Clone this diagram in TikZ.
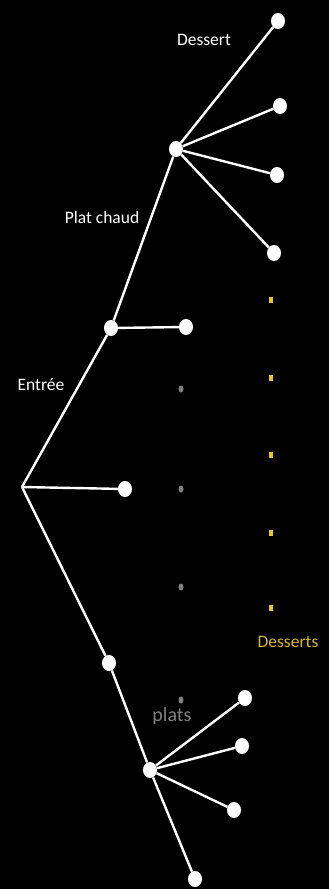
\documentclass[tikz,border=0pt]{standalone}
\usepackage{fontspec}
\setmainfont{Carlito}
\usetikzlibrary{shapes}
\definecolor{goldyellow}{RGB}{232,200,30}
\definecolor{labelyellow}{RGB}{214,184,34}

\begin{document}
\begin{tikzpicture}[x=1pt, y=-1pt,
			dot/.style={ellipse, fill=white, inner sep=0pt, minimum width=14pt, minimum height=16pt},
			gdot/.style={ellipse, fill=gray, inner sep=0pt, minimum width=5pt, minimum height=7pt},
			ydot/.style={rectangle, fill=goldyellow, inner sep=0pt, minimum width=4pt, minimum height=6pt},
			edge/.style={white, line width=2.4pt},
			font=\fontsize{17.5}{20}\selectfont]
			%Hintergrund
			\fill[black] (0,0) rectangle (329,889);
			\useasboundingbox (0,0) rectangle (329,889);
			% Wurzel und Knoten
			\coordinate (menu) at (22,487);
			\node[dot] (p1) at (111,328) {};
			\node[dot] (p1a) at (186,327) {};
			\node[dot] (p2) at (125,489) {};
			\node[dot] (p3) at (109,663) {};
			\node[dot] (c) at (176,149) {};
			\node[dot] (d) at (150,770) {};
			\node[dot] (e) at (195,879) {};
			% Kanten
			\draw[edge] (menu) -- (p1);
			\draw[edge] (menu) -- (p2);
			\draw[edge] (menu) -- (p3);
			\draw[edge] (p1) -- (p1a);
			\draw[edge] (p1) -- (c);
			\draw[edge] (p3) -- (d);
			\draw[edge] (d) -- (e);
			% Desserts oben
			\foreach \n/\x/\y in {1/278/21, 2/280/106, 3/277/175, 4/274/253}
				{\node[dot] (c\n) at (\x,\y) {};
				 \draw[edge] (c) -- (c\n);}
			% Desserts unten
			\foreach \n/\x/\y in {1/245/698, 2/242/746, 3/234/810}
				{\node[dot] (d\n) at (\x,\y) {};
				 \draw[edge] (d) -- (d\n);}
			% Punkte
			\foreach \y [count=\i] in {389,489,587,700} \node[gdot] (g\i) at (181,\y) {};
			\foreach \y [count=\i] in {300,378,455,533,608} \node[ydot] (y\i) at (271,\y) {};
			%Beschriftung
			\node[white] (ldessert) at (204,40) {Dessert};
			\node[white] (lplat) at (102,217) {Plat chaud};
			\node[white] (lentree) at (41,385) {Entrée};
			\node[labelyellow] (ldesserts) at (288,642) {Desserts};
			\node[gray, font=\fontsize{20}{22}\selectfont] (lplats) at (172,716) {plats};
		\end{tikzpicture}
\end{document}
